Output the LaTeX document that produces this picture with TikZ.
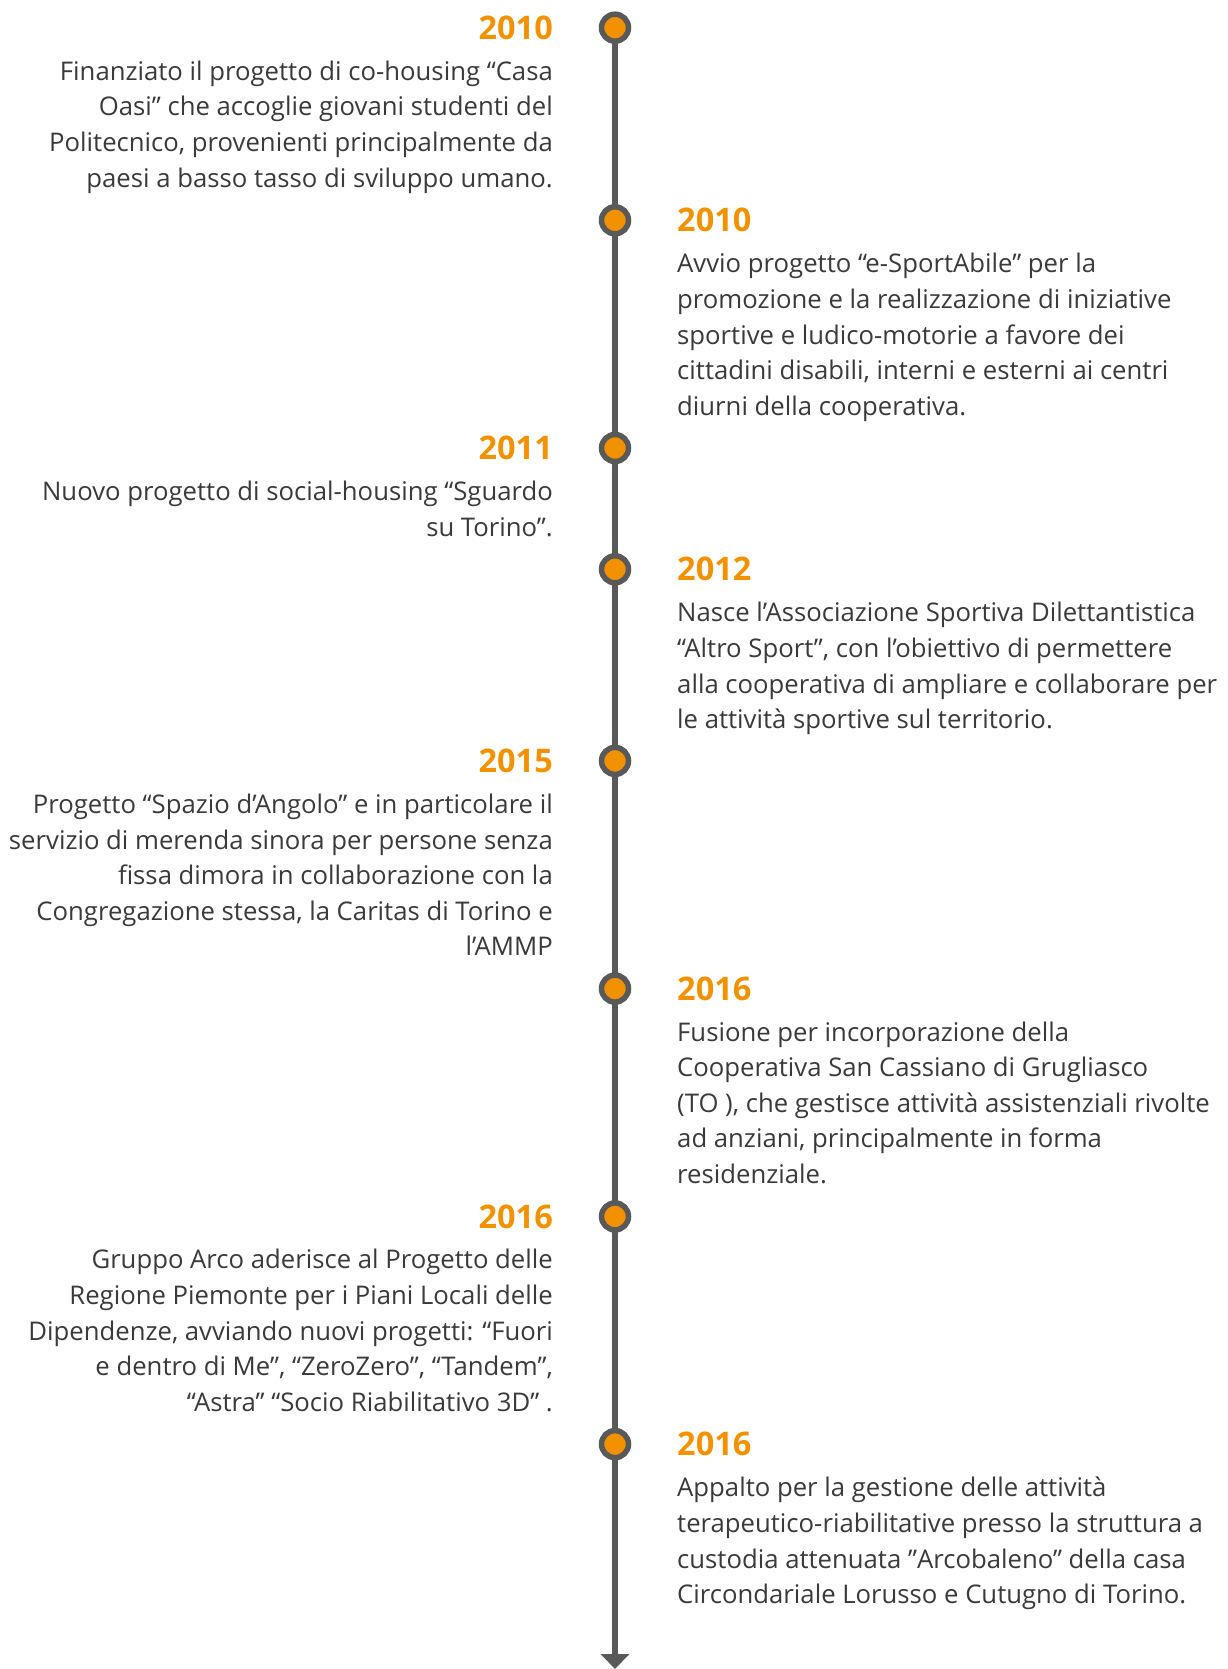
\documentclass[tikz,border=0pt]{standalone}
\usepackage{fontspec}
\setmainfont{Open Sans}
\usetikzlibrary{arrows.meta}
\definecolor{tlorange}{RGB}{243,146,0}
\definecolor{tlgray}{RGB}{89,89,89}
\definecolor{tltext}{RGB}{58,58,58}
\tikzset{
  year/.style={inner sep=0pt, text=tlorange, font=\fontsize{32.5}{32.5}\selectfont\bfseries},
  yearL/.style={year, anchor=east},
  yearR/.style={year, anchor=west},
  body/.style={inner sep=0pt, text=tltext, font=\fontsize{25.7}{35.6}\selectfont},
  bodyL/.style={body, anchor=north east, align=right},
  bodyR/.style={body, anchor=north west, align=left},
  dot/.style={circle, draw=tlgray, fill=tlorange, line width=5.5pt, minimum size=27pt, inner sep=0pt},
  axis/.style={draw=tlgray, line width=6pt, -{Triangle[width=28pt,length=15pt]}}
}
\begin{document}
\begin{tikzpicture}[x=1pt,y=1pt]
\useasboundingbox (0,0) rectangle (1227,-1669);
% timeline points
\coordinate (p1) at (615,-27.7);
\coordinate (p2) at (615,-220.3);
\coordinate (p3) at (615,-448);
\coordinate (p4) at (615,-569.3);
\coordinate (p5) at (615,-760.9);
\coordinate (p6) at (615,-988.6);
\coordinate (p7) at (615,-1216.4);
\coordinate (p8) at (615,-1444.1);
\coordinate (tip) at (615,-1669);
\draw[axis] (p1) -- (tip);
\foreach \i in {1,...,8} { \node[dot] (d\i) at (p\i) {}; }
% entry 1
\node[yearL] (y1) at (553,-27.7) {2010};
\node[bodyL] (t1) at (553,-60.5) {Finanziato il progetto di co-housing “Casa\\Oasi” che accoglie giovani studenti del\\Politecnico, provenienti principalmente da\\paesi a basso tasso di sviluppo umano.};
% entry 2
\node[yearR] (y2) at (677,-220.3) {2010};
\node[bodyR] (t2) at (677,-253.1) {Avvio progetto “e-SportAbile” per la\\promozione e la realizzazione di iniziative\\sportive e ludico-motorie a favore dei\\cittadini disabili, interni e esterni ai centri\\diurni della cooperativa.};
% entry 3
\node[yearL] (y3) at (553,-448) {2011};
\node[bodyL] (t3) at (553,-480.8) {Nuovo progetto di social-housing “Sguardo\\su Torino”.};
% entry 4
\node[yearR] (y4) at (677,-569.3) {2012};
\node[bodyR] (t4) at (677,-602.1) {Nasce l’Associazione Sportiva Dilettantistica\\“Altro Sport”, con l’obiettivo di permettere\\alla cooperativa di ampliare e collaborare per\\le attività sportive sul territorio.};
% entry 5
\node[yearL] (y5) at (553,-760.9) {2015};
\node[bodyL] (t5) at (553,-793.7) {Progetto “Spazio d’Angolo” e in particolare il\\servizio di merenda sinora per persone senza\\fissa dimora in collaborazione con la\\Congregazione stessa, la Caritas di Torino e\\l’AMMP};
% entry 6
\node[yearR] (y6) at (677,-988.6) {2016};
\node[bodyR] (t6) at (677,-1021.4) {Fusione per incorporazione della\\Cooperativa San Cassiano di Grugliasco\\(TO ), che gestisce attività assistenziali rivolte\\ad anziani, principalmente in forma\\residenziale.};
% entry 7
\node[yearL] (y7) at (553,-1216.4) {2016};
\node[bodyL] (t7) at (553,-1249.2) {Gruppo Arco aderisce al Progetto delle\\Regione Piemonte per i Piani Locali delle\\Dipendenze, avviando nuovi progetti: “Fuori\\e dentro di Me”, “ZeroZero”, “Tandem”,\\“Astra” “Socio Riabilitativo 3D” .};
% entry 8
\node[yearR] (y8) at (677,-1444.1) {2016};
\node[bodyR] (t8) at (677,-1476.9) {Appalto per la gestione delle attività\\terapeutico-riabilitative presso la struttura a\\custodia attenuata \symbol{"22}Arcobaleno” della casa\\Circondariale Lorusso e Cutugno di Torino.};
\end{tikzpicture}
\end{document}
